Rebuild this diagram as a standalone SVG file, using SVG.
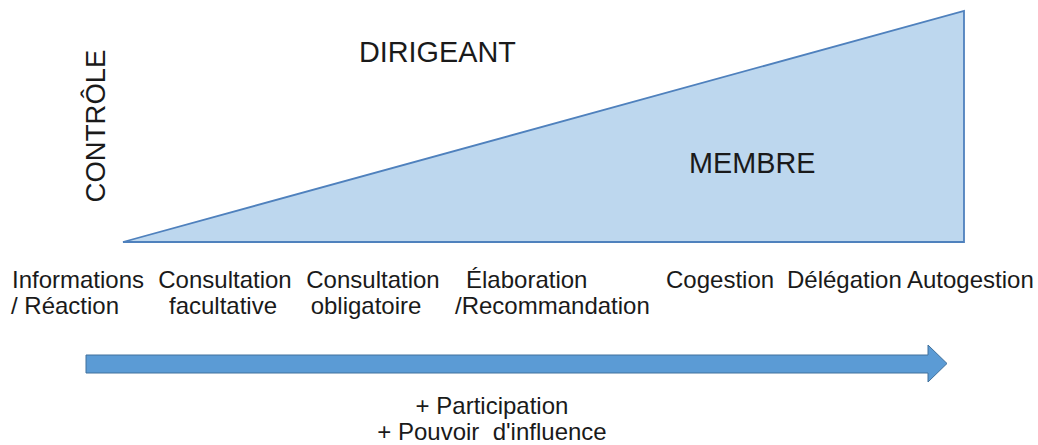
<svg xmlns="http://www.w3.org/2000/svg" width="1038" height="445" viewBox="0 0 1038 445">
<style>
text { font-family: "Liberation Sans", Arial, sans-serif; fill: #1a1a1a; }
.lbl { font-size: 24px; }
.big { font-size: 28.8px; }
.tri { fill: #BDD7EE; stroke: #4F81BD; stroke-width: 1.8; stroke-linejoin: miter; }
.arr { fill: #5B9BD5; stroke: #41719C; stroke-width: 1; }
</style>
<rect width="1038" height="445" fill="#ffffff"/>
<g id="triangle">
<polygon class="tri" points="123,242 964,11 964,242"/>
</g>
<g id="connectors">
<polygon class="arr" points="86,355 928,355 928,345 947,363.5 928,382 928,373 86,373"/>
</g>
<g id="controle">
<text style="font-size:27.5px" transform="translate(105,126) rotate(-90)" text-anchor="middle">CONTRÔLE</text>
</g>
<g id="dirigeant">
<text class="big" x="359" y="62">DIRIGEANT</text>
</g>
<g id="membre">
<text class="big" x="689" y="173">MEMBRE</text>
</g>
<g id="informations">
<text class="lbl" x="12" y="288">Informations</text>
<text class="lbl" x="11" y="314">/ Réaction</text>
</g>
<g id="consultation-facultative">
<text class="lbl" x="225" y="288" text-anchor="middle">Consultation</text>
<text class="lbl" x="223" y="314" text-anchor="middle">facultative</text>
</g>
<g id="consultation-obligatoire">
<text class="lbl" x="373" y="288" text-anchor="middle">Consultation</text>
<text class="lbl" x="366" y="314" text-anchor="middle">obligatoire</text>
</g>
<g id="elaboration">
<text class="lbl" x="466" y="288">Élaboration</text>
<text class="lbl" x="455" y="314">/Recommandation</text>
</g>
<g id="cogestion">
<text class="lbl" x="666" y="288">Cogestion</text>
</g>
<g id="delegation">
<text class="lbl" x="787" y="288">Délégation</text>
</g>
<g id="autogestion">
<text class="lbl" x="907" y="288">Autogestion</text>
</g>
<g id="participation">
<text class="lbl" x="492" y="414" text-anchor="middle">+ Participation</text>
<text class="lbl" x="492" y="440" text-anchor="middle" xml:space="preserve">+ Pouvoir  d'influence</text>
</g>
</svg>
